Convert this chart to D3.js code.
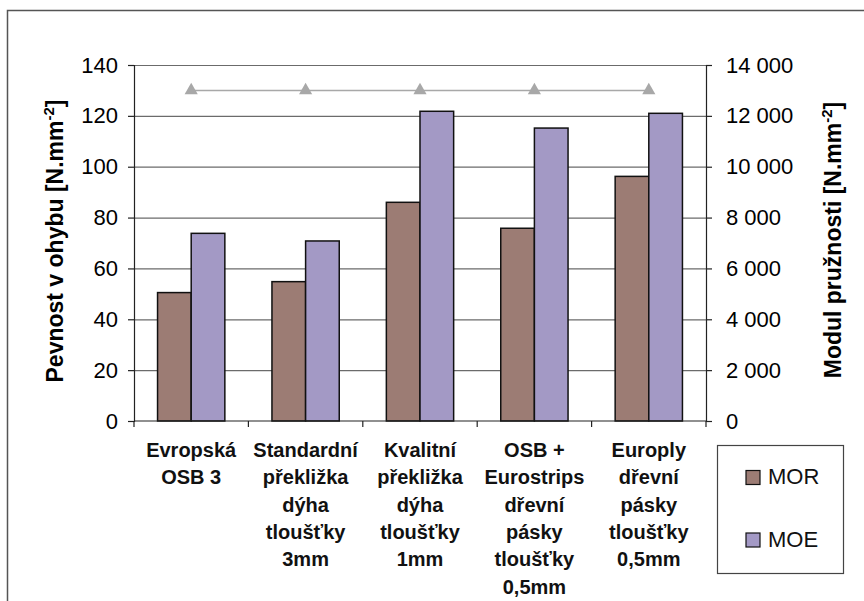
<!DOCTYPE html>
<html>
<head>
<meta charset="utf-8">
<script src="https://cdn.jsdelivr.net/npm/d3@7"></script>
<style>
  body { margin: 0; background: #fff; }
  svg { font-family: "Liberation Sans", Arial, sans-serif; }
</style>
</head>
<body>
<svg width="864" height="601"></svg>
<script>
var svg = d3.select('svg');

// Data
var categories = [
  ["Evropská", "OSB 3"],
  ["Standardní", "překližka", "dýha", "tloušťky", "3mm"],
  ["Kvalitní", "překližka", "dýha", "tloušťky", "1mm"],
  ["OSB +", "Eurostrips", "dřevní", "pásky", "tloušťky", "0,5mm"],
  ["Europly", "dřevní", "pásky", "tloušťky", "0,5mm"]
];
var morValues = [50.5, 54.8, 86, 75.8, 96.2];        // left axis
var moeValues = [7380, 7080, 12180, 11520, 12100];   // right axis
var lineValues = [130, 130, 130, 130, 130];          // grey triangle series (left axis)
var leftTicks = [0, 20, 40, 60, 80, 100, 120, 140];
var rightTicks = [0, 2000, 4000, 6000, 8000, 10000, 12000, 14000];
var seriesNames = ["MOR", "MOE"];

// Plot box
var plotLeft = 134, plotRight = 706, plotTop = 65, plotBottom = 421;
var colors = { MOR: "#9c7c74", MOE: "#a399c5" };

// Outer frame
svg.append("path")
  .attr("d", "M7.5,601 L7.5,10.5 L864,10.5")
  .attr("fill", "none")
  .attr("stroke", "#555")
  .attr("stroke-width", 1.5);

// Scales
var x = d3.scaleBand()
  .domain(d3.range(categories.length))
  .range([plotLeft, plotRight]);

var xInner = d3.scaleBand()
  .domain(seriesNames)
  .range([0, x.bandwidth()])
  .paddingOuter(0.7);

var yLeft = d3.scaleLinear().domain([0, 140]).range([plotBottom, plotTop]);
var yRight = d3.scaleLinear().domain([0, 14000]).range([plotBottom, plotTop]);

// Gridlines
svg.append("g")
  .selectAll("line")
  .data(leftTicks.slice(1))
  .enter().append("line")
  .attr("x1", plotLeft)
  .attr("x2", plotRight)
  .attr("y1", d => yLeft(d) + 0.5)
  .attr("y2", d => yLeft(d) + 0.5)
  .attr("stroke", "#6b6b6b")
  .attr("stroke-width", 1.2);

// Bars
var groups = svg.append("g")
  .selectAll("g")
  .data(categories)
  .enter().append("g")
  .attr("transform", (d, i) => "translate(" + x(i) + ",0)");

groups.append("rect")
  .attr("x", xInner("MOR"))
  .attr("width", xInner.bandwidth())
  .attr("y", (d, i) => yLeft(morValues[i]))
  .attr("height", (d, i) => plotBottom - yLeft(morValues[i]))
  .attr("fill", colors.MOR)
  .attr("stroke", "#111")
  .attr("stroke-width", 1.5);

groups.append("rect")
  .attr("x", xInner("MOE"))
  .attr("width", xInner.bandwidth())
  .attr("y", (d, i) => yRight(moeValues[i]))
  .attr("height", (d, i) => plotBottom - yRight(moeValues[i]))
  .attr("fill", colors.MOE)
  .attr("stroke", "#111")
  .attr("stroke-width", 1.5);

// Grey line with triangles
var line = d3.line()
  .x((d, i) => x(i) + x.bandwidth() / 2)
  .y(d => yLeft(d));

svg.append("path")
  .datum(lineValues)
  .attr("d", line)
  .attr("fill", "none")
  .attr("stroke", "#a8a8a8")
  .attr("stroke-width", 1.5);

svg.append("g")
  .selectAll("path")
  .data(lineValues)
  .enter().append("path")
  .attr("d", d3.symbol().type(d3.symbolTriangle).size(75))
  .attr("transform", (d, i) => "translate(" + (x(i) + x.bandwidth() / 2) + "," + yLeft(d) + ")")
  .attr("fill", "#a8a8a8");

// Axes
var leftAxis = svg.append("g")
  .attr("transform", "translate(" + plotLeft + ",0)")
  .call(d3.axisLeft(yLeft).tickValues(leftTicks).tickSize(6).tickPadding(10));

var rightAxis = svg.append("g")
  .attr("transform", "translate(" + plotRight + ",0)")
  .call(d3.axisRight(yRight).tickValues(rightTicks).tickSize(6).tickPadding(14)
    .tickFormat(d => d === 0 ? "0" : d3.format(",")(d).replace(/,/g, " ")));

[leftAxis, rightAxis].forEach(function(a) {
  a.select(".domain").attr("stroke", "#222").attr("stroke-width", 1.2);
  a.selectAll(".tick line").attr("stroke", "#222").attr("stroke-width", 1.2);
  a.selectAll(".tick text")
    .attr("fill", "#000")
    .style("font-size", "22px")
    .style("font-family", "'Liberation Sans', Arial, sans-serif");
});

// Bottom axis: ticks at band boundaries
svg.append("line")
  .attr("x1", plotLeft).attr("x2", plotRight)
  .attr("y1", plotBottom).attr("y2", plotBottom)
  .attr("stroke", "#222").attr("stroke-width", 1.2);

svg.append("g")
  .selectAll("line")
  .data(d3.range(categories.length + 1))
  .enter().append("line")
  .attr("x1", i => i < categories.length ? x(i) : plotRight)
  .attr("x2", i => i < categories.length ? x(i) : plotRight)
  .attr("y1", plotBottom)
  .attr("y2", plotBottom + 6)
  .attr("stroke", "#222").attr("stroke-width", 1.2);

// Category labels
var catLabels = svg.append("g")
  .selectAll("text")
  .data(categories)
  .enter().append("text")
  .attr("text-anchor", "middle")
  .style("font-size", "20px")
  .style("font-weight", "bold")
  .attr("fill", "#111");

catLabels.selectAll("tspan")
  .data((d, i) => d.map(t => ({ t: t, i: i })))
  .enter().append("tspan")
  .attr("x", d => x(d.i) + x.bandwidth() / 2)
  .attr("y", (d, j) => 457 + j * 27.3)
  .text(d => d.t);

// Axis titles
svg.append("text")
  .attr("transform", "translate(63,241) rotate(-90)")
  .attr("text-anchor", "middle")
  .style("font-size", "23px")
  .style("font-weight", "bold")
  .html("Pevnost v ohybu [N.mm<tspan dy='-9' font-size='15px'>-2</tspan><tspan dy='9'>]</tspan>");

svg.append("text")
  .attr("transform", "translate(841,240) rotate(-90)")
  .attr("text-anchor", "middle")
  .style("font-size", "23px")
  .style("font-weight", "bold")
  .html("Modul pružnosti [N.mm<tspan dy='-9' font-size='15px'>-2</tspan><tspan dy='9'>]</tspan>");

// Legend
var legend = svg.append("g");
legend.append("rect")
  .attr("x", 717.5).attr("y", 445.5)
  .attr("width", 126).attr("height", 128)
  .attr("fill", "#fff")
  .attr("stroke", "#444")
  .attr("stroke-width", 1.2);

var items = legend.selectAll("g")
  .data(seriesNames)
  .enter().append("g")
  .attr("transform", (d, i) => "translate(746," + (470.5 + i * 62.5) + ")");

items.append("rect")
  .attr("width", 14).attr("height", 14)
  .attr("fill", d => colors[d])
  .attr("stroke", "#111")
  .attr("stroke-width", 1.2);

items.append("text")
  .attr("x", 22)
  .attr("y", 13.5)
  .style("font-size", "22px")
  .attr("fill", "#111")
  .text(d => d);
</script>
</body>
</html>
